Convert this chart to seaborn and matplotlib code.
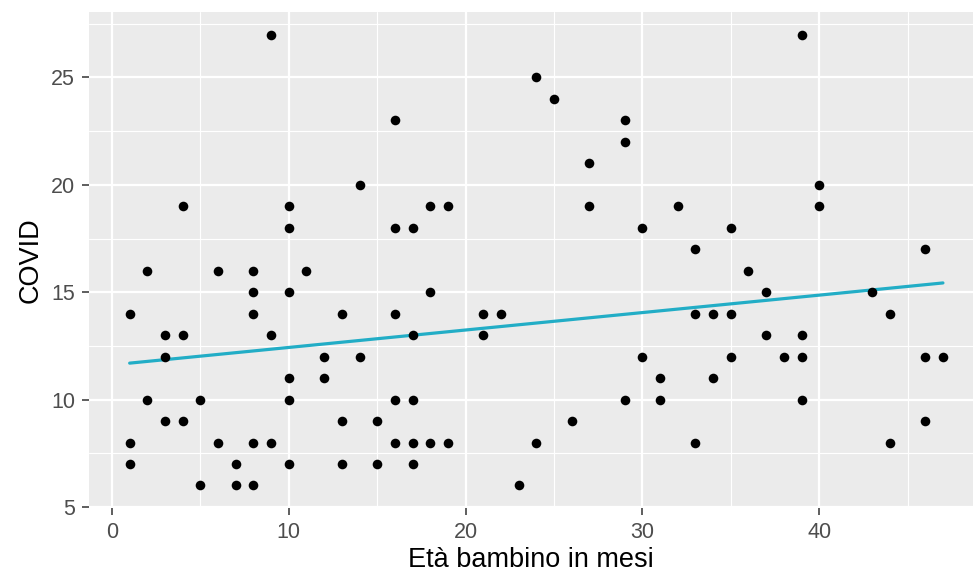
import numpy as np
import pandas as pd
import matplotlib
matplotlib.use("Agg")
import matplotlib.pyplot as plt
from matplotlib.ticker import MultipleLocator
import seaborn as sns

# Età (mesi) e punteggio COVID
eta = [1, 1, 1, 2, 2, 3, 3, 3, 4, 4, 4, 5, 5, 6, 6, 7, 7,
       8, 8, 8, 8, 8, 9, 9, 9, 10, 10, 10, 10, 10, 10, 11, 12, 12,
       13, 13, 13, 14, 14, 15, 15, 16, 16, 16, 16, 16,
       17, 17, 17, 17, 17, 18, 18, 18, 19, 19, 21, 21, 22, 23,
       24, 24, 25, 26, 27, 27, 29, 29, 29, 30, 30, 31, 31, 32,
       33, 33, 33, 34, 34, 35, 35, 35, 36, 37, 37, 38,
       39, 39, 39, 39, 40, 40, 43, 44, 44, 46, 46, 46, 47]
covid = [14, 8, 7, 16, 10, 13, 12, 9, 19, 13, 9, 10, 6, 16, 8, 7, 6,
         16, 15, 14, 8, 6, 27, 13, 8, 19, 18, 15, 11, 10, 7, 16, 12, 11,
         14, 9, 7, 20, 12, 9, 7, 23, 18, 14, 10, 8,
         18, 13, 10, 8, 7, 19, 15, 8, 19, 8, 14, 13, 14, 6,
         25, 8, 24, 9, 21, 19, 23, 22, 10, 18, 12, 11, 10, 19,
         17, 14, 8, 14, 11, 18, 14, 12, 16, 15, 13, 12,
         27, 13, 12, 10, 20, 19, 15, 14, 8, 17, 12, 9, 12]

df = pd.DataFrame({"eta": eta, "covid": covid})

sns.set_theme(style="darkgrid")
plt.rcParams["font.family"] = ["Liberation Sans", "DejaVu Sans"]

fig = plt.figure(figsize=(9.73, 5.81), dpi=100)
ax = fig.add_axes([89 / 973, 1 - 508 / 581, (973 - 89) / 973, (508 - 12) / 581])
ax.set_facecolor("#EBEBEB")

sns.regplot(data=df, x="eta", y="covid", ci=None, ax=ax,
            scatter_kws={"color": "black", "s": 48, "linewidths": 0, "alpha": 1, "zorder": 3},
            line_kws={"color": "#22ADC6", "lw": 2.3, "zorder": 2})

ax.set_xlim(-1.3, 48.7)
ax.set_ylim(4.95, 28.05)
ax.xaxis.set_major_locator(MultipleLocator(10))
ax.xaxis.set_minor_locator(MultipleLocator(5))
ax.yaxis.set_major_locator(MultipleLocator(5))
ax.yaxis.set_minor_locator(MultipleLocator(2.5))

ax.grid(which="major", color="white", lw=1.6)
ax.grid(which="minor", color="white", lw=0.8)
ax.set_axisbelow(True)
for s in ax.spines.values():
    s.set_visible(False)

ax.tick_params(which="major", length=5, width=1.1, color="#333333",
               labelsize=15.5, labelcolor="#4D4D4D", pad=5)
ax.tick_params(which="minor", length=0)
ax.tick_params(axis="x", bottom=True)
ax.tick_params(axis="y", left=True)

ax.set_xlabel("Età bambino in mesi", fontsize=19.5, color="black", labelpad=3)
ax.set_ylabel("COVID", fontsize=19.5, color="black", labelpad=5)

fig.savefig("out.png", dpi=100)
